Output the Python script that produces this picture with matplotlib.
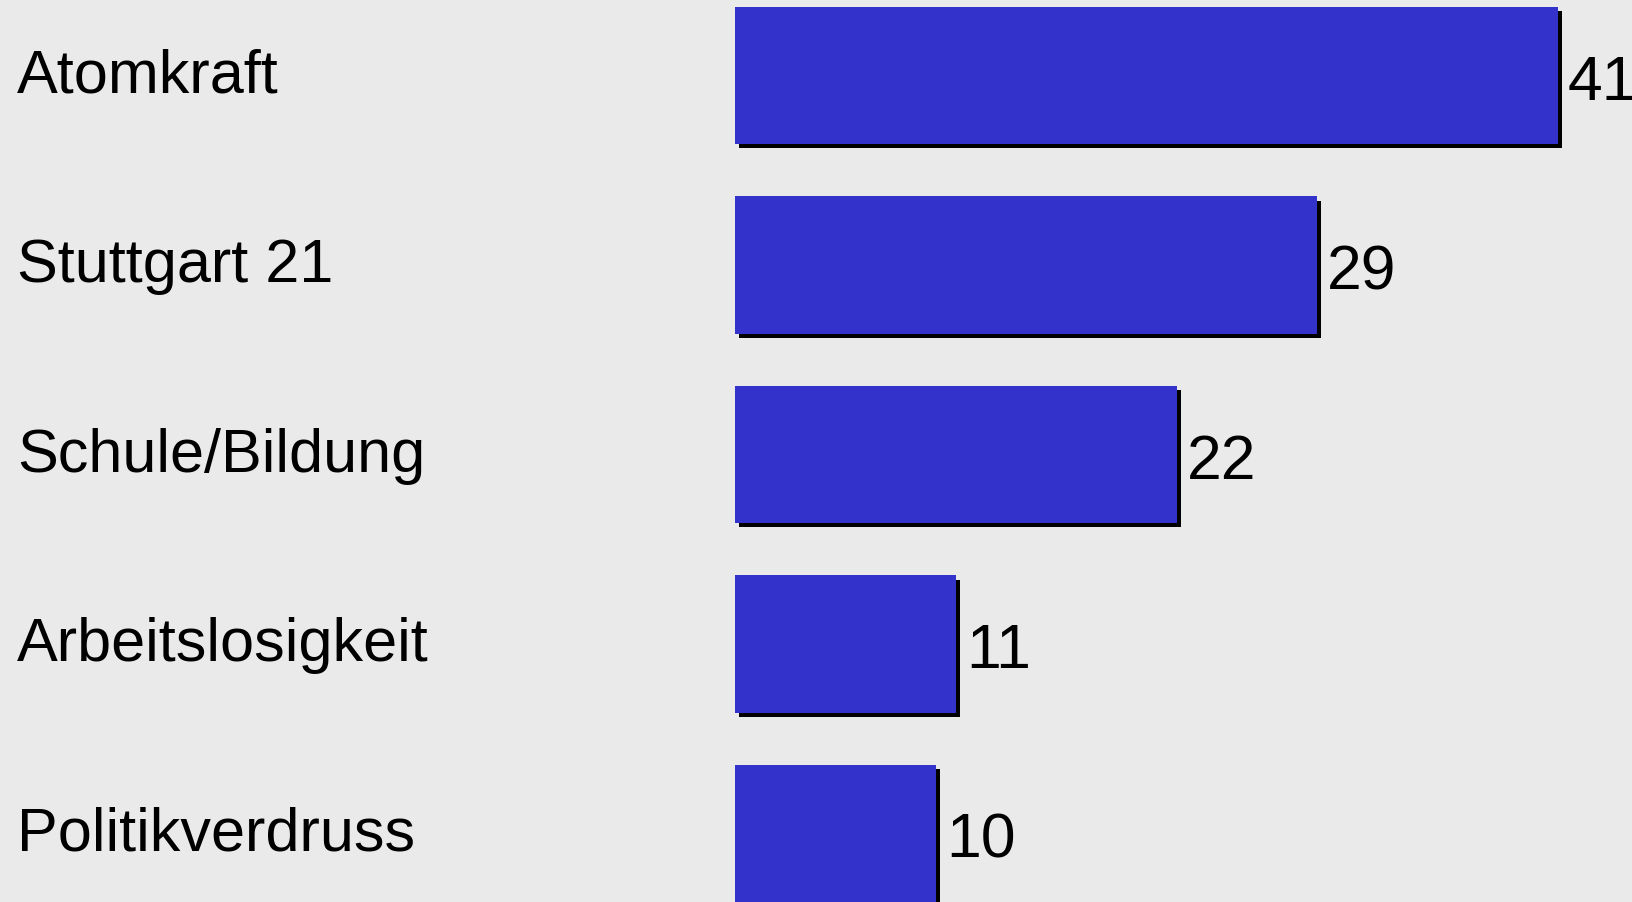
from matplotlib import pyplot as plt
import matplotlib.patheffects as pe

# Themen und Werte (Prozent)
themen = ['Atomkraft', 'Stuttgart 21', 'Schule/Bildung', 'Arbeitslosigkeit', 'Politikverdruss']
werte = [41, 29, 22, 11, 10]

plt.rcParams['font.family'] = ['Liberation Sans', 'DejaVu Sans']

fig = plt.figure(figsize=(16.33, 9.03), dpi=100)
fig.patch.set_facecolor('#eaeaea')
ax = fig.add_axes([0, 0, 1, 1])
ax.set_facecolor('#eaeaea')

pos = list(range(len(themen)))
shadow = [pe.SimplePatchShadow(offset=(2.9, -2.9), shadow_rgbFace='black', alpha=1.0), pe.Normal()]
bars = ax.barh(pos, werte, height=0.723, color='#3333cc', linewidth=0)
for b in bars:
    b.set_path_effects(shadow)

# value labels right of the bars
for p, v in zip(pos, werte):
    ax.text(v + 0.5, p + 0.122, str(v), fontsize=45, va='baseline', ha='left')

# category labels on the left
for p, t in zip(pos, themen):
    ax.text(17 / 1633, p + 0.085, t, fontsize=44, va='baseline', ha='left',
            transform=ax.get_yaxis_transform())

ax.set_xlim(-36.62, 44.74)
ax.set_ylim(4.3615, -0.4037)
ax.axis('off')

plt.savefig('out.png', dpi=100, facecolor=fig.get_facecolor())
